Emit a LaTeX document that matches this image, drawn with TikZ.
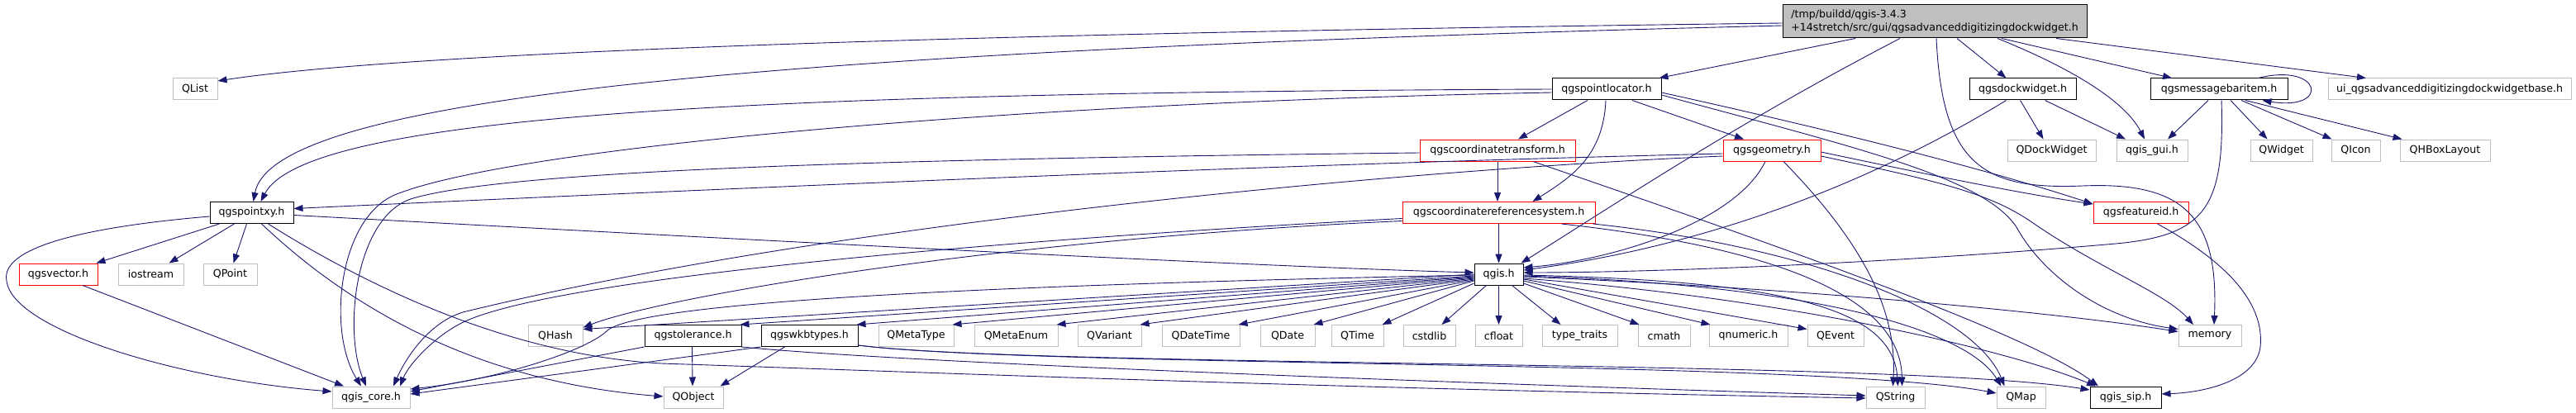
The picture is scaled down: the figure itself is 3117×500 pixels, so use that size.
\documentclass[tikz,border=0pt]{standalone}
\usepackage{fontspec}
\setmainfont{DejaVu Sans}
\usetikzlibrary{arrows.meta}
\definecolor{edgec}{RGB}{25,25,112}
\definecolor{extc}{RGB}{191,191,191}
\definecolor{redc}{RGB}{255,0,0}
\begin{document}
\begin{tikzpicture}[x=1pt,y=-1pt,
  nbox/.style={rectangle,inner sep=0pt,minimum height=26pt,line width=1pt,fill=white,font=\fontsize{12.6}{15}\selectfont},
  extbox/.style={nbox,draw=extc},
  docbox/.style={nbox,draw=black},
  redbox/.style={nbox,draw=redc},
  mainbox/.style={nbox,draw=black,fill=extc,minimum height=40pt,align=left,font=\fontsize{12.6}{16}\selectfont},
  dep/.style={draw=edgec,line width=0.9pt,-{Triangle[length=11pt,width=8pt]}}]
\useasboundingbox (0,0) rectangle (3117,500);
\fill[white] (0,0) rectangle (3117,500);
% nodes
\node[mainbox,minimum width=368pt] (M) at (2341,26) {/tmp/buildd/qgis-3.4.3\\+14stretch/src/gui/qgsadvanceddigitizingdockwidget.h};
\node[extbox,minimum width=54pt] (qlist) at (236,108) {QList};
\node[docbox,minimum width=132pt] (pl) at (1944,108) {qgspointlocator.h};
\node[docbox,minimum width=129pt] (dw) at (2447.5,108) {qgsdockwidget.h};
\node[docbox,minimum width=166pt] (mbi) at (2685,108) {qgsmessagebaritem.h};
\node[extbox,minimum width=294pt] (ui) at (2964,108) {ui\_qgsadvanceddigitizingdockwidgetbase.h};
\node[redbox,minimum width=188pt] (ct) at (1812,182) {qgscoordinatetransform.h};
\node[redbox,minimum width=118pt] (geo) at (2144,182) {qgsgeometry.h};
\node[extbox,minimum width=107pt] (qdw) at (2482.5,182) {QDockWidget};
\node[extbox,minimum width=86pt] (gui) at (2604,182) {qgis\_gui.h};
\node[extbox,minimum width=75pt] (qwidget) at (2760.5,182) {QWidget};
\node[extbox,minimum width=59pt] (qicon) at (2850.5,182) {QIcon};
\node[extbox,minimum width=109pt] (qhbox) at (2958.5,182) {QHBoxLayout};
\node[docbox,minimum width=101pt] (pxy) at (304.5,257.5) {qgspointxy.h};
\node[redbox,minimum width=233pt] (crs) at (1813.5,257.5) {qgscoordinatereferencesystem.h};
\node[redbox,minimum width=115pt] (fid) at (2590.5,257.5) {qgsfeatureid.h};
\node[redbox,minimum width=95pt] (vec) at (70.5,332) {qgsvector.h};
\node[extbox,minimum width=79pt] (ios) at (182.5,332) {iostream};
\node[extbox,minimum width=65pt] (qpoint) at (278.5,332) {QPoint};
\node[docbox,minimum width=59pt] (qgis) at (1813.5,332) {qgis.h};
\node[extbox,minimum width=66pt] (qhash) at (672,406.5) {QHash};
\node[docbox,minimum width=117pt] (tol) at (838.5,406.5) {qgstolerance.h};
\node[docbox,minimum width=117pt] (wkb) at (979.5,406.5) {qgswkbtypes.h};
\node[extbox,minimum width=91pt] (qmetatype) at (1108.5,406.5) {QMetaType};
\node[extbox,minimum width=101pt] (qmetaenum) at (1229.5,406.5) {QMetaEnum};
\node[extbox,minimum width=77pt] (qvariant) at (1342.5,406.5) {QVariant};
\node[extbox,minimum width=94pt] (qdatetime) at (1453,406.5) {QDateTime};
\node[extbox,minimum width=66pt] (qdate) at (1558,406.5) {QDate};
\node[extbox,minimum width=63pt] (qtime) at (1642.5,406.5) {QTime};
\node[extbox,minimum width=63pt] (cstdlib) at (1729.5,406.5) {cstdlib};
\node[extbox,minimum width=57pt] (cfloat) at (1813.5,406.5) {cfloat};
\node[extbox,minimum width=91pt] (typetraits) at (1911.5,406.5) {type\_traits};
\node[extbox,minimum width=63pt] (cmath) at (2013.5,406.5) {cmath};
\node[extbox,minimum width=95pt] (qnumeric) at (2115.5,406.5) {qnumeric.h};
\node[extbox,minimum width=68pt] (qevent) at (2221,406.5) {QEvent};
\node[extbox,minimum width=76pt] (memory) at (2674,406.5) {memory};
\node[extbox,minimum width=94pt] (core) at (449,481) {qgis\_core.h};
\node[extbox,minimum width=72pt] (qobject) at (839,481) {QObject};
\node[extbox,minimum width=71pt] (qstring) at (2293.5,481) {QString};
\node[extbox,minimum width=59pt] (qmap) at (2445.5,481) {QMap};
\node[docbox,minimum width=86pt] (sip) at (2572,481) {qgis\_sip.h};
% main
\draw[dep] ([yshift=-2pt]M.west) .. controls (1200,40) and (500,62) .. (qlist.20);
\draw[dep] ([yshift=-5pt]M.west) .. controls (900,62) and (330,120) .. ([xshift=2pt]pxy.north);
\draw[dep] ([xshift=-96pt]M.south) -- ([xshift=-3pt]pl.north east);
\draw[dep] ([xshift=-42pt]M.south) .. controls (2100,150) and (1950,250) .. ([xshift=-3pt]qgis.north east);
\draw[dep] ([xshift=2pt]M.south) .. controls (2350,200) and (2400,230) .. (2520,225) .. controls (2640,220) and (2685,260) .. ([xshift=5pt]memory.north);
\draw[dep] ([xshift=27pt]M.south) -- ([xshift=-20pt]dw.north);
\draw[dep] ([xshift=76pt]M.south) .. controls (2500,80) and (2570,120) .. ([xshift=-9pt]gui.north);
\draw[dep] ([xshift=81pt]M.south) -- ([xshift=-57pt]mbi.north);
\draw[dep] ([xshift=147pt]M.south) -- ([xshift=-101pt]ui.north);
% pointlocator
\draw[dep] (pl.west) .. controls (900,112) and (370,140) .. ([xshift=11pt]pxy.north);
\draw[dep] ([yshift=-4pt]pl.west) .. controls (1200,125) and (620,180) .. (480,235) .. controls (410,262) and (395,400) .. ([xshift=-12pt]core.north);
\draw[dep] ([xshift=-23pt]pl.south) -- ([xshift=25pt]ct.north);
\draw[dep] ([xshift=-1pt]pl.south) .. controls (1940,190) and (1900,215) .. ([xshift=41pt]crs.north);
\draw[dep] ([xshift=31pt]pl.south) -- ([xshift=-34pt]geo.north);
\draw[dep] ([yshift=-4pt]pl.east) .. controls (2250,165) and (2420,210) .. ([yshift=-3pt]fid.north west);
\draw[dep] ([yshift=-7pt]pl.east) .. controls (2250,180) and (2400,215) .. (2440,275) .. controls (2470,330) and (2540,385) .. ([yshift=8pt]memory.west);
% coordinatetransform
\draw[dep] (ct.south) -- (ct.south |- crs.north);
\draw[dep] ([yshift=-3pt]ct.west) .. controls (1100,192) and (620,205) .. (500,240) .. controls (430,260) and (415,400) .. ([xshift=-6pt]core.north);
\draw[dep] ([xshift=43pt]ct.south) .. controls (2100,280) and (2450,400) .. ([xshift=-33pt]sip.north);
% crs
\draw[dep] (crs.south) -- (qgis.north);
\draw[dep] ([yshift=-7pt]crs.west) .. controls (1300,285) and (700,330) .. (565,388) .. controls (530,403) and (495,440) .. ([xshift=35pt]core.north);
\draw[dep] ([yshift=-10pt]crs.west) .. controls (1200,290) and (800,360) .. ([yshift=10pt]qhash.east);
\draw[dep] ([xshift=76pt]crs.south) .. controls (2150,300) and (2300,360) .. ([xshift=8pt]qstring.north);
\draw[dep] ([xshift=-3pt]crs.south east) .. controls (2200,300) and (2390,380) .. ([xshift=-20pt]qmap.north);
% geometry
\draw[dep] ([yshift=-4pt]geo.west) .. controls (1500,200) and (800,232) .. ([yshift=5pt]pxy.east);
\draw[dep] ([yshift=-7pt]geo.west) .. controls (1700,205) and (1000,270) .. (560,378) .. controls (515,392) and (488,440) .. ([xshift=27pt]core.north);
\draw[dep] ([xshift=-8pt]geo.south) .. controls (2100,270) and (1950,315) .. ([yshift=8pt]qgis.east);
\draw[dep] ([xshift=14pt]geo.south) .. controls (2260,300) and (2295,380) .. ([xshift=-3pt]qstring.north);
\draw[dep] ([yshift=-2pt]geo.east) .. controls (2350,215) and (2450,235) .. ([yshift=-3pt]fid.north west);
\draw[dep] ([yshift=-7pt]geo.east) .. controls (2350,220) and (2410,235) .. (2460,270) .. controls (2540,325) and (2620,355) .. ([xshift=-20pt]memory.north);
% dockwidget
\draw[dep] ([xshift=-3pt]dw.south) -- ([xshift=-10pt]qdw.north);
\draw[dep] ([xshift=27pt]dw.south) -- ([xshift=-32pt]gui.north);
\draw[dep] ([xshift=-20pt]dw.south) .. controls (2250,230) and (2050,300) .. ([yshift=5pt]qgis.east);
% messagebaritem
\draw[dep] ([xshift=-36pt]mbi.north east) .. controls (2810,75) and (2820,135) .. ([xshift=-31pt]mbi.south east);
\draw[dep] ([xshift=-13pt]mbi.south) -- ([xshift=19pt]gui.north);
\draw[dep] ([xshift=14pt]mbi.south) -- ([xshift=-17pt]qwidget.north);
\draw[dep] ([xshift=27pt]mbi.south) -- ([xshift=1pt]qicon.north west);
\draw[dep] ([xshift=32pt]mbi.south) -- ([xshift=3pt]qhbox.north west);
\draw[dep] ([xshift=3pt]mbi.south) .. controls (2692,250) and (2670,285) .. (2560,295) .. controls (2300,318) and (2000,330) .. ([yshift=2pt]qgis.east);
% pointxy
\draw[dep] ([xshift=-39pt]pxy.south) -- ([xshift=-2pt]vec.north east);
\draw[dep] ([xshift=-21pt]pxy.south) -- ([xshift=22pt]ios.north);
\draw[dep] ([xshift=-6pt]pxy.south) -- ([xshift=4pt]qpoint.north);
\draw[dep] ([yshift=-4.5pt]pxy.west) .. controls (100,275) and (0,300) .. (8,340) .. controls (15,400) and (220,460) .. ([yshift=7pt]core.west);
\draw[dep] ([xshift=12pt]pxy.south) .. controls (400,350) and (550,460) .. ([yshift=1pt]qobject.west);
\draw[dep] ([xshift=20pt]pxy.south) .. controls (450,350) and (620,430) .. (800,440) .. controls (1100,450) and (1600,470) .. ([yshift=-1pt]qstring.west);
\draw[dep] ([yshift=-3pt]pxy.east) .. controls (900,290) and (1500,322) .. ([yshift=2pt]qgis.west);
% vector
\draw[dep] ([xshift=29.5pt]vec.south) -- ([xshift=-33pt]core.north);
% qgis.h
\draw[dep] (qgis.west) -- ([yshift=8pt]qhash.east);
\draw[dep] ([yshift=-1pt]qgis.west) .. controls (1200,345) and (780,365) .. (735,400) .. controls (710,425) and (600,460) .. ([yshift=10pt]core.east);
\draw[dep] ([yshift=-2pt]qgis.west) -- ([xshift=-2pt]tol.north east);
\draw[dep] ([yshift=-3pt]qgis.west) -- ([xshift=-2pt]wkb.north east);
\draw[dep] ([yshift=-4pt]qgis.west) -- ([xshift=-2pt]qmetatype.north east);
\draw[dep] ([yshift=-5pt]qgis.west) -- ([xshift=-2pt]qmetaenum.north east);
\draw[dep] ([yshift=-6pt]qgis.west) -- ([xshift=-2pt]qvariant.north east);
\draw[dep] ([yshift=-7pt]qgis.west) -- ([xshift=-2pt]qdatetime.north east);
\draw[dep] ([yshift=-8pt]qgis.west) -- ([xshift=-2pt]qdate.north east);
\draw[dep] ([yshift=-11pt]qgis.west) -- ([xshift=-2pt]qtime.north east);
\draw[dep] ([xshift=-15pt]qgis.south) -- ([xshift=15pt]cstdlib.north);
\draw[dep] (qgis.south) -- (cfloat.north);
\draw[dep] ([xshift=16pt]qgis.south) -- ([xshift=-23pt]typetraits.north);
\draw[dep] ([yshift=-11pt]qgis.east) -- ([xshift=2pt]cmath.north west);
\draw[dep] ([yshift=-8pt]qgis.east) -- ([xshift=2pt]qnumeric.north west);
\draw[dep] ([yshift=-6pt]qgis.east) -- ([yshift=8pt]qevent.west);
\draw[dep] ([yshift=-1pt]qgis.east) .. controls (2150,340) and (2290,370) .. ([xshift=3pt]qstring.north);
\draw[dep] ([yshift=-2pt]qgis.east) .. controls (2200,345) and (2380,400) .. ([xshift=-24pt]qmap.north);
\draw[dep] ([yshift=-3pt]qgis.east) .. controls (2200,350) and (2500,380) .. ([yshift=5pt]memory.west);
\draw[dep] ([yshift=-5pt]qgis.east) .. controls (2150,360) and (2420,420) .. ([xshift=-36pt]sip.north);
% tolerance
\draw[dep] ([xshift=-1pt]tol.south) -- ([xshift=-1pt]qobject.north);
\draw[dep] (tol.south west) -- ([yshift=7pt]core.east);
\draw[dep] (tol.south east) .. controls (1100,440) and (1800,465) .. ([yshift=2pt]qstring.west);
% wkbtypes
\draw[dep] ([xshift=-30pt]wkb.south) -- ([xshift=-4pt]qobject.north east);
\draw[dep] (wkb.south west) -- ([yshift=4pt]core.east);
\draw[dep] ([yshift=2pt]wkb.south east) .. controls (1250,445) and (2200,435) .. ([yshift=5pt]qmap.west);
\draw[dep] ([yshift=2pt]wkb.south east) .. controls (1250,445) and (2300,435) .. ([yshift=9pt]sip.west);
% featureid
\draw[dep] ([xshift=20pt]fid.south) .. controls (2700,320) and (2740,370) .. (2735,420) .. controls (2730,460) and (2670,475) .. ([yshift=4pt]sip.east);
\end{tikzpicture}
\end{document}
